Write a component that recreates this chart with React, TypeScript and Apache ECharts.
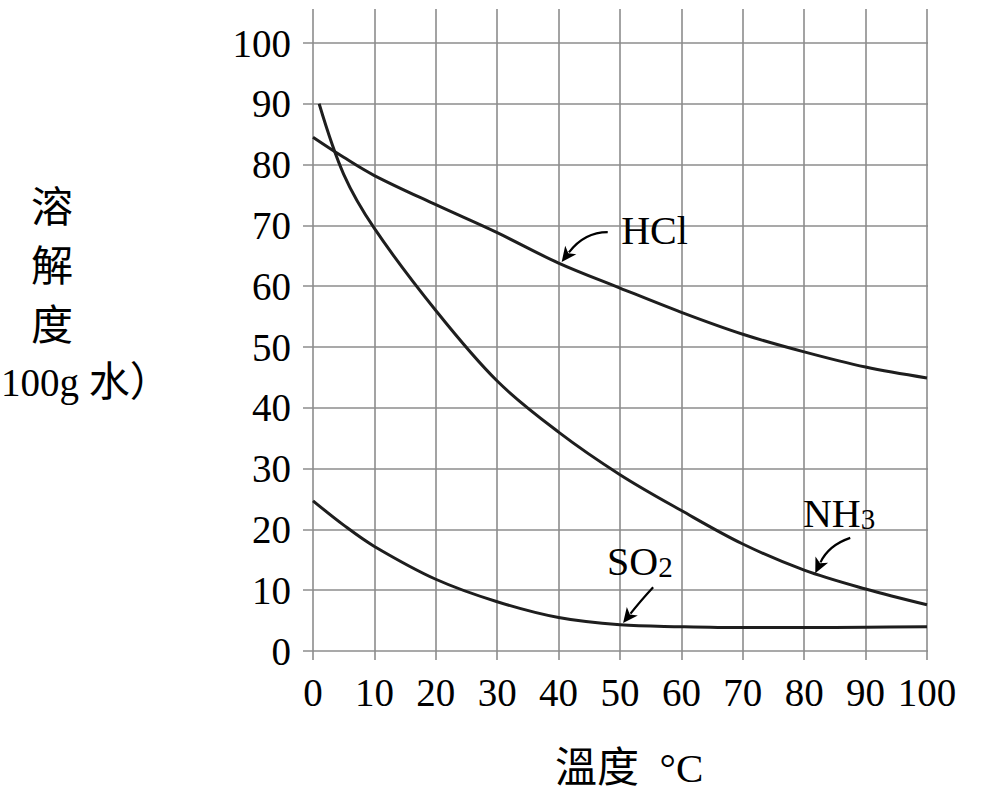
import { useEffect, useRef } from "react"
import * as echarts from "echarts"

// temperature (°C) and solubility (g / 100 g water)
const temps = [0, 5, 10, 20, 30, 40, 50, 60, 70, 80, 90, 100]
const hclValues = [84.5, 81.2, 78.2, 73.4, 68.8, 63.8, 59.7, 55.7, 52.1, 49.2, 46.7, 44.9]
const so2Values = [24.7, 20.7, 17.2, 11.8, 8.1, 5.5, 4.3, 4.0, 3.85, 3.85, 3.9, 4.0]
const nh3Temps = [1, 5, 10, 20, 30, 40, 50, 60, 70, 80, 90, 100]
const nh3Values = [90, 78.4, 69.5, 56.0, 44.4, 36, 29, 23.1, 17.6, 13.3, 10.2, 7.6]

const axisTicks = [0, 10, 20, 30, 40, 50, 60, 70, 80, 90, 100]

// curve labels with their arrows, in data units
const annotations = [
  { main: "HCl", sub: "", at: [50.2, 69.1], from: [48.0, 68.9], ctrl: [44.2, 68.9], tip: [40.5, 64.0] },
  { main: "NH", sub: "3", at: [79.8, 22.6], from: [87.5, 18.6], ctrl: [84.0, 17.4], tip: [81.8, 12.8] },
  { main: "SO", sub: "2", at: [47.9, 14.8], from: [55.4, 10.5], ctrl: [53.3, 8.2], tip: [50.5, 4.6] },
]

const SERIF = "'Liberation Serif', 'Times New Roman', 'Noto Sans CJK TC', serif"
const GRID_COLOR = "#8c8c8c"
const CURVE_COLOR = "#1e1e1e"

export default function App() {
  const chartRef = useRef<HTMLDivElement>(null)

  useEffect(() => {
    if (!chartRef.current) return
    const chart = echarts.init(chartRef.current, null, { renderer: "svg" })

    const tickLabel = { fontFamily: SERIF, fontSize: 39, color: "#000" }
    const curve = (data: number[][]) => ({
      type: "line",
      xAxisIndex: 0,
      yAxisIndex: 0,
      data,
      smooth: 0.35,
      symbol: "none",
      lineStyle: { color: CURVE_COLOR, width: 3 },
      z: 5,
    })

    chart.setOption({
      animation: false,
      backgroundColor: "#fff",
      grid: [
        { left: 313, right: 63, top: 43, bottom: 139 },
        // taller grid for the vertical rules
        { left: 313, right: 63, top: 9, bottom: 130 },
        // wider grid for the horizontal rules
        { left: 303, right: 62, top: 43, bottom: 139 },
      ],
      xAxis: [
        {
          gridIndex: 0, type: "value", min: 0, max: 100, interval: 10,
          axisLine: { show: false }, axisTick: { show: false }, splitLine: { show: false },
          axisLabel: { ...tickLabel, margin: 22, formatter: (v: number) => (axisTicks.includes(v) ? String(v) : "") },
        },
        {
          gridIndex: 1, type: "value", min: 0, max: 100, interval: 10,
          axisLine: { show: false }, axisTick: { show: false }, axisLabel: { show: false },
          splitLine: { show: true, lineStyle: { color: GRID_COLOR, width: 1.6 } },
        },
        { gridIndex: 2, type: "value", min: 0, max: 1, show: false },
      ],
      yAxis: [
        { gridIndex: 0, type: "value", min: 0, max: 100, interval: 10, show: false },
        { gridIndex: 1, type: "value", min: 0, max: 1, show: false },
        {
          gridIndex: 2, type: "value", min: 0, max: 100, interval: 10,
          axisLine: { show: false }, axisTick: { show: false },
          axisLabel: { ...tickLabel, margin: 12 },
          splitLine: { show: true, lineStyle: { color: GRID_COLOR, width: 1.6 } },
        },
      ],
      series: [
        { name: "HCl", ...curve(temps.map((t, i) => [t, hclValues[i]])) },
        { name: "NH3", ...curve(nh3Temps.map((t, i) => [t, nh3Values[i]])) },
        { name: "SO2", ...curve(temps.map((t, i) => [t, so2Values[i]])) },
      ],
    })

    const px = (d: number[]) => chart.convertToPixel({ gridIndex: 0 }, d) as number[]
    const graphics: any[] = []

    annotations.forEach((a) => {
      const s = px(a.from)
      const c = px(a.ctrl)
      const t = px(a.tip)
      let dx = t[0] - c[0]
      let dy = t[1] - c[1]
      const len = Math.hypot(dx, dy)
      dx /= len
      dy /= len
      const headLen = 15
      const halfW = 7
      const bx = t[0] - dx * headLen
      const by = t[1] - dy * headLen
      graphics.push({
        type: "bezierCurve",
        shape: { x1: s[0], y1: s[1], cpx1: c[0], cpy1: c[1], x2: bx + dx * 3, y2: by + dy * 3 },
        style: { stroke: "#000", lineWidth: 2.2, fill: null },
        z: 10,
      })
      graphics.push({
        type: "polygon",
        shape: {
          points: [
            [t[0], t[1]],
            [bx - dy * halfW, by + dx * halfW],
            [bx + dx * 4, by + dy * 4],
            [bx + dy * halfW, by - dx * halfW],
          ],
        },
        style: { fill: "#000" },
        z: 10,
      })
      const p = px(a.at)
      graphics.push({
        type: "text",
        x: p[0],
        y: p[1],
        style: {
          text: a.sub ? `{m|${a.main}}{s|${a.sub}}` : `{m|${a.main}}`,
          rich: {
            m: { fontFamily: SERIF, fontSize: 40, lineHeight: 40, fill: "#000" },
            s: { fontFamily: SERIF, fontSize: 29, lineHeight: 28, verticalAlign: "bottom", fill: "#000" },
          },
          fill: "#000",
          textAlign: "left",
          textVerticalAlign: "middle",
          align: "left",
          verticalAlign: "middle",
        },
        z: 10,
      })
    })

    // axis titles
    const nameStyle = { fontFamily: SERIF, fontSize: 42, fill: "#000" }
    const yName = ["溶", "解", "度"]
    yName.forEach((ch, i) => {
      graphics.push({
        type: "text",
        x: 52,
        y: 208 + i * 59,
        style: { ...nameStyle, text: ch, textAlign: "center", textVerticalAlign: "middle", align: "center", verticalAlign: "middle" },
      })
    })
    graphics.push({
      type: "text",
      x: 1,
      y: 382,
      style: {
        text: "{l|100g }{c|水）}",
        rich: {
          l: { fontFamily: SERIF, fontSize: 39, fill: "#000" },
          c: { fontFamily: SERIF, fontSize: 41, fill: "#000" },
        },
        textAlign: "left", textVerticalAlign: "middle", align: "left", verticalAlign: "middle",
      },
    })
    graphics.push({
      type: "text",
      x: 555,
      y: 768,
      style: {
        text: "{c|溫度}{l|  °C}",
        rich: {
          l: { fontFamily: SERIF, fontSize: 41, fill: "#000" },
          c: { fontFamily: SERIF, fontSize: 42, fill: "#000" },
        },
        textAlign: "left", textVerticalAlign: "middle", align: "left", verticalAlign: "middle",
      },
    })

    chart.setOption({ graphic: graphics })

    return () => {
      chart.dispose()
    }
  }, [])

  return (
    <div
      ref={chartRef}
      style={{ position: "fixed", left: 0, top: 0, width: 990, height: 790, background: "#fff" }}
    />
  )
}
